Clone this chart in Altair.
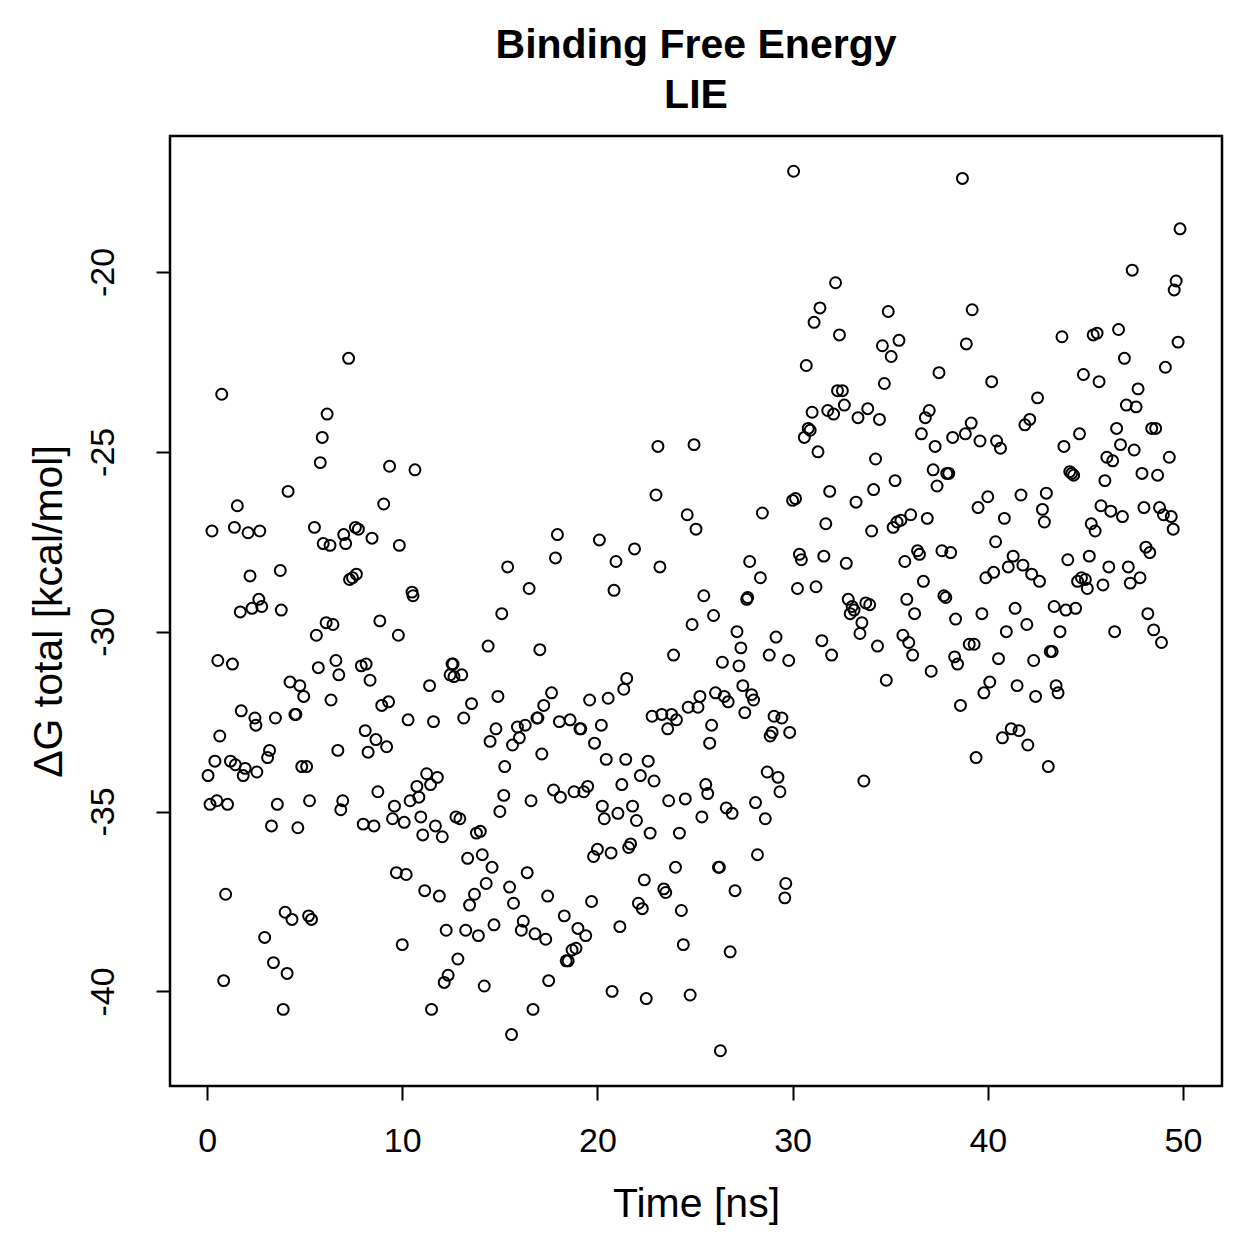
import altair as alt
import pandas as pd

time_ns = [
    0.05, 0.15, 0.25, 0.4, 0.5, 0.55, 0.65, 0.75, 0.85, 0.95, 1.05, 1.2, 1.3, 1.4, 1.45, 1.55, 1.7, 1.75, 1.85, 1.95,
    2.1, 2.2, 2.3, 2.45, 2.5, 2.55, 2.65, 2.7, 2.8, 2.95, 3.1, 3.2, 3.3, 3.4, 3.5, 3.6, 3.75, 3.8, 3.9, 4.0,
    4.1, 4.15, 4.25, 4.35, 4.5, 4.55, 4.65, 4.75, 4.85, 4.95, 5.1, 5.2, 5.25, 5.35, 5.5, 5.6, 5.7, 5.8, 5.9, 5.95,
    6.1, 6.15, 6.3, 6.35, 6.45, 6.6, 6.7, 6.75, 6.85, 6.95, 7.0, 7.1, 7.25, 7.3, 7.45, 7.6, 7.65, 7.75, 7.9, 8.0,
    8.1, 8.15, 8.25, 8.35, 8.45, 8.55, 8.65, 8.75, 8.85, 8.95, 9.05, 9.2, 9.3, 9.35, 9.5, 9.6, 9.7, 9.8, 9.85, 10.0,
    10.1, 10.2, 10.3, 10.4, 10.5, 10.55, 10.65, 10.75, 10.85, 10.95, 11.05, 11.15, 11.25, 11.4, 11.45, 11.5, 11.6, 11.7, 11.8, 11.9,
    12.05, 12.15, 12.25, 12.35, 12.45, 12.55, 12.6, 12.65, 12.75, 12.85, 12.95, 13.05, 13.15, 13.25, 13.35, 13.45, 13.55, 13.7, 13.8, 13.9,
    14.0, 14.1, 14.2, 14.3, 14.4, 14.5, 14.6, 14.7, 14.8, 14.9, 15.0, 15.1, 15.2, 15.25, 15.4, 15.5, 15.6, 15.65, 15.7, 15.9,
    16.0, 16.1, 16.2, 16.3, 16.4, 16.5, 16.6, 16.7, 16.8, 16.9, 16.95, 17.05, 17.15, 17.25, 17.35, 17.45, 17.5, 17.65, 17.75, 17.85,
    17.95, 18.05, 18.1, 18.3, 18.4, 18.5, 18.6, 18.7, 18.8, 18.9, 19.0, 19.1, 19.15, 19.3, 19.4, 19.5, 19.6, 19.7, 19.8, 19.85,
    20.0, 20.1, 20.2, 20.25, 20.35, 20.45, 20.55, 20.7, 20.75, 20.85, 20.95, 21.05, 21.15, 21.25, 21.35, 21.45, 21.5, 21.6, 21.7, 21.8,
    21.9, 22.0, 22.1, 22.2, 22.3, 22.4, 22.5, 22.6, 22.7, 22.8, 22.9, 23.0, 23.1, 23.2, 23.3, 23.4, 23.5, 23.6, 23.65, 23.8,
    23.9, 24.0, 24.05, 24.2, 24.3, 24.4, 24.5, 24.6, 24.65, 24.75, 24.85, 24.95, 25.05, 25.15, 25.25, 25.35, 25.45, 25.55, 25.65, 25.75,
    25.85, 25.95, 26.05, 26.2, 26.25, 26.3, 26.4, 26.5, 26.6, 26.7, 26.8, 26.9, 27.05, 27.15, 27.25, 27.35, 27.45, 27.55, 27.65, 27.7,
    27.8, 27.9, 28.0, 28.1, 28.2, 28.35, 28.45, 28.6, 28.7, 28.8, 28.85, 28.95, 29.05, 29.15, 29.25, 29.35, 29.45, 29.6, 29.65, 29.8,
    29.85, 30.0, 30.05, 30.15, 30.25, 30.35, 30.45, 30.6, 30.7, 30.8, 30.9, 31.0, 31.1, 31.2, 31.3, 31.4, 31.5, 31.6, 31.7, 31.8,
    31.9, 32.0, 32.1, 32.2, 32.3, 32.4, 32.55, 32.65, 32.75, 32.85, 32.95, 33.05, 33.15, 33.25, 33.35, 33.45, 33.55, 33.65, 33.75, 33.85,
    33.95, 34.05, 34.15, 34.25, 34.35, 34.45, 34.6, 34.7, 34.8, 34.9, 35.05, 35.15, 35.25, 35.35, 35.45, 35.55, 35.65, 35.75, 35.85, 35.95,
    36.05, 36.15, 36.25, 36.4, 36.5, 36.6, 36.7, 36.8, 36.9, 37.0, 37.1, 37.2, 37.3, 37.4, 37.5, 37.65, 37.75, 37.85, 37.9, 38.0,
    38.1, 38.2, 38.3, 38.35, 38.45, 38.6, 38.7, 38.85, 38.9, 39.05, 39.15, 39.2, 39.3, 39.4, 39.5, 39.6, 39.7, 39.8, 39.9, 40.0,
    40.1, 40.2, 40.3, 40.4, 40.45, 40.55, 40.65, 40.75, 40.85, 40.95, 41.05, 41.2, 41.3, 41.4, 41.5, 41.6, 41.7, 41.8, 41.9, 42.0,
    42.05, 42.15, 42.25, 42.35, 42.45, 42.55, 42.65, 42.8, 42.9, 43.0, 43.1, 43.2, 43.3, 43.4, 43.5, 43.6, 43.7, 43.8, 43.9, 44.0,
    44.1, 44.2, 44.3, 44.4, 44.5, 44.6, 44.7, 44.8, 44.9, 45.0, 45.1, 45.2, 45.3, 45.4, 45.5, 45.6, 45.7, 45.8, 45.9, 46.0,
    46.1, 46.2, 46.3, 46.4, 46.5, 46.6, 46.7, 46.8, 46.9, 47.0, 47.1, 47.2, 47.3, 47.4, 47.5, 47.6, 47.7, 47.8, 47.9, 48.0,
    48.1, 48.2, 48.3, 48.4, 48.5, 48.6, 48.7, 48.8, 48.9, 49.0, 49.1, 49.3, 49.4, 49.5, 49.55, 49.65, 49.75, 49.85,
]

dg_total = [
    -34.0, -34.8, -27.2, -33.6, -34.7, -30.8, -32.9, -23.4, -39.7, -37.3, -34.8, -33.6, -30.9, -27.1, -33.7, -26.5, -29.45, -32.2, -34.0, -33.8,
    -27.25, -28.45, -29.35, -32.4, -32.6, -33.9, -29.1, -27.2, -29.3, -38.5, -33.5, -33.3, -35.4, -39.2, -32.4, -34.8, -28.3, -29.4, -40.5, -37.8,
    -39.5, -26.1, -31.4, -38.0, -32.3, -32.3, -35.45, -31.5, -33.75, -31.8, -33.75, -37.9, -34.7, -38.0, -27.1, -30.1, -31.0, -25.3, -24.6, -27.55,
    -29.75, -23.95, -27.6, -31.9, -29.8, -30.8, -33.3, -31.2, -34.95, -34.7, -27.3, -27.55, -22.4, -28.55, -28.5, -27.1, -28.4, -27.15, -30.95, -35.35,
    -32.75, -30.9, -33.35, -31.35, -27.4, -35.4, -33.0, -34.45, -29.7, -32.05, -26.45, -33.2, -31.95, -25.4, -35.2, -34.85, -36.7, -30.1, -27.6, -38.7,
    -35.3, -36.75, -32.45, -34.7, -28.9, -29.0, -25.5, -34.3, -34.6, -35.15, -35.65, -37.2, -33.95, -31.5, -34.25, -40.5, -32.5, -35.4, -34.05, -37.35,
    -35.7, -39.75, -38.3, -39.55, -31.2, -30.9, -30.9, -31.25, -35.15, -39.1, -35.2, -31.2, -32.4, -38.3, -36.3, -37.6, -32.0, -37.3, -35.6, -38.45,
    -35.55, -36.2, -39.85, -37.0, -30.4, -33.05, -36.55, -38.15, -32.7, -31.8, -35.0, -29.5, -34.55, -33.75, -28.2, -37.1, -41.2, -33.15, -37.55, -32.65,
    -32.95, -38.3, -38.05, -32.6, -36.7, -28.8, -34.7, -40.5, -38.4, -32.4, -32.4, -30.5, -33.4, -32.05, -38.55, -37.35, -39.7, -31.7, -34.4, -27.95,
    -27.3, -32.5, -34.6, -37.9, -39.15, -39.15, -32.45, -38.85, -34.45, -38.8, -38.25, -32.7, -32.7, -34.45, -38.45, -34.3, -31.9, -37.5, -36.25, -33.1,
    -36.05, -27.45, -32.6, -34.85, -35.2, -33.55, -31.85, -36.15, -40.0, -28.85, -28.05, -35.05, -38.2, -34.25, -31.6, -33.55, -31.3, -36.0, -35.9, -34.85,
    -27.7, -35.25, -37.55, -34.0, -37.7, -36.9, -40.2, -33.6, -35.6, -32.35, -34.15, -26.2, -24.85, -28.2, -32.3, -37.15, -37.25, -32.7, -34.7, -32.3,
    -30.65, -36.55, -32.45, -35.6, -37.75, -38.7, -34.65, -26.75, -32.1, -40.1, -29.8, -24.8, -27.15, -32.1, -31.8, -35.15, -29.0, -34.25, -34.5, -33.1,
    -32.6, -29.55, -31.7, -36.55, -36.55, -41.65, -30.85, -31.8, -34.9, -31.95, -38.9, -35.05, -37.2, -30.0, -30.95, -30.45, -31.5, -32.25, -29.1, -29.05,
    -28.05, -31.75, -31.9, -34.75, -36.2, -28.5, -26.7, -35.2, -33.9, -30.65, -32.9, -32.8, -32.35, -30.15, -34.05, -34.45, -32.4, -37.4, -37.0, -30.8,
    -32.8, -26.35, -17.2, -26.3, -28.8, -27.85, -28.0, -24.6, -22.6, -24.35, -24.4, -23.9, -21.4, -28.75, -25.0, -21.0, -30.25, -27.9, -27.0, -23.85,
    -26.1, -30.65, -23.95, -20.3, -23.3, -21.75, -23.3, -23.7, -28.1, -29.1, -29.5, -29.3, -29.4, -26.4, -24.05, -30.05, -29.75, -34.15, -29.2, -23.8,
    -29.25, -27.2, -26.05, -25.2, -30.4, -24.1, -22.05, -23.1, -31.35, -21.1, -22.35, -27.1, -25.8, -26.95, -21.9, -26.9, -30.1, -28.05, -29.1, -30.3,
    -26.75, -30.65, -29.5, -27.75, -27.85, -24.5, -28.6, -24.05, -26.85, -23.85, -31.1, -25.5, -24.85, -25.95, -22.8, -27.75, -29.0, -29.05, -25.6, -25.6,
    -27.8, -24.6, -30.7, -29.65, -30.9, -32.05, -17.4, -24.5, -22.0, -30.35, -24.2, -21.05, -30.35, -33.5, -26.55, -24.7, -29.5, -31.7, -28.5, -26.25,
    -31.4, -23.05, -28.35, -27.5, -24.7, -30.75, -24.9, -32.95, -26.85, -30.0, -28.2, -32.7, -27.9, -29.35, -31.5, -32.75, -26.2, -28.15, -24.25, -29.8,
    -33.15, -24.1, -28.4, -30.8, -31.8, -23.5, -28.6, -26.6, -26.95, -26.15, -33.75, -30.55, -30.55, -29.3, -31.5, -31.7, -30.0, -21.8, -24.85, -29.4,
    -28.0, -25.55, -25.6, -25.65, -29.35, -28.6, -24.5, -28.5, -22.85, -28.55, -28.8, -27.9, -27.0, -21.75, -27.2, -21.7, -23.05, -26.5, -28.7, -25.8,
    -25.15, -28.2, -26.65, -25.25, -30.0, -24.35, -21.6, -24.8, -26.8, -22.4, -23.7, -28.2, -28.65, -19.95, -24.95, -23.75, -23.25, -28.5, -25.6, -26.55,
    -27.65, -29.5, -27.8, -24.35, -29.95, -24.35, -25.65, -26.55, -30.3, -26.75, -22.65, -25.15, -26.8, -27.15, -20.5, -20.25, -21.95, -18.8,
]

x_ticks = [0, 10, 20, 30, 40, 50]
y_ticks = [-40, -35, -30, -25, -20]

df = pd.DataFrame({"time": time_ns, "dg": dg_total})

FONT = "Liberation Sans"

points = alt.Chart(df).mark_point(
    shape="circle", filled=False, color="black", size=120, strokeWidth=2, opacity=1
).encode(
    x=alt.X(
        "time:Q",
        scale=alt.Scale(domain=[-1.9, 52.0], nice=False, zero=False),
        axis=alt.Axis(
            values=x_ticks, title="Time [ns]", grid=False, domain=False,
            tickSize=14, tickWidth=2, tickColor="black",
            labelFont=FONT, labelFontSize=34, labelColor="black", labelPadding=24,
            labelExpr="toString(datum.value)",
            titleFont=FONT, titleFontSize=41, titleFontWeight="normal", titleColor="black",
            titlePadding=26,
        ),
    ),
    y=alt.Y(
        "dg:Q",
        scale=alt.Scale(domain=[-42.63, -16.22], nice=False, zero=False),
        axis=alt.Axis(
            values=y_ticks, title="ΔG total [kcal/mol]", grid=False, domain=False,
            tickSize=14, tickWidth=2, tickColor="black",
            labelFont=FONT, labelFontSize=34, labelColor="black", labelPadding=36,
            labelAngle=270, labelAlign="center", labelBaseline="bottom",
            labelExpr="toString(datum.value)",
            titleFont=FONT, titleFontSize=41, titleFontWeight="normal", titleColor="black",
            titlePadding=16,
        ),
    ),
)

chart = points.properties(
    width=1052,
    height=950,
    background="white",
    title=alt.TitleParams(
        text=["Binding Free Energy", "LIE"],
        font=FONT, fontSize=41, fontWeight="bold", color="black",
        anchor="middle", lineHeight=50, offset=19,
    ),
    autosize="none",
    padding={"left": 170, "top": 136, "right": 37, "bottom": 173},
).configure_view(
    stroke="black", strokeWidth=2.5
)

chart.save("out.html", embed_options={"renderer": "svg", "actions": False})
